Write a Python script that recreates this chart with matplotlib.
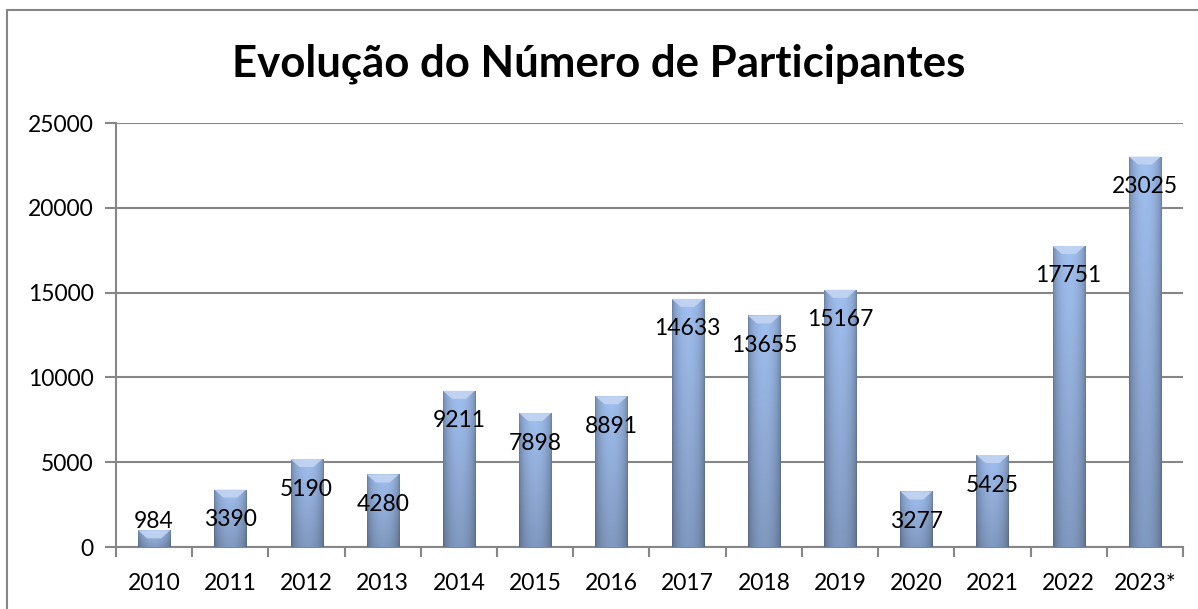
import numpy as np
import matplotlib.pyplot as plt
from matplotlib.patches import Polygon, Rectangle

years = ["2010", "2011", "2012", "2013", "2014", "2015", "2016",
         "2017", "2018", "2019", "2020", "2021", "2022", "2023*"]
participants = [984, 3390, 5190, 4280, 9211, 7898, 8891,
                14633, 13655, 15167, 3277, 5425, 17751, 23025]
yticks = [0, 5000, 10000, 15000, 20000, 25000]
title = "Evolução do Número de Participantes"

GRAY = "#868686"
plt.rcParams["font.family"] = ["Lato", "DejaVu Sans"]

fig = plt.figure(figsize=(11.98, 6.09), dpi=100)
ax = fig.add_axes([0.0968, 0.1018, 0.8907, 0.6962])

x = np.arange(len(years))
bars = ax.bar(x, participants, width=0.42, color="#7f98c6", zorder=3)

# bevel-like shading: darker at the edges, lighter in the middle and near the top
h_prof = 0.66 + 0.34 * np.sin(np.linspace(0, np.pi, 60)) ** 0.5
v_prof = np.linspace(1.0, 0.80, 100)[:, None]
top_col = np.array([0.63, 0.75, 0.94])
shade = top_col[None, None, :] * (h_prof[None, :, None] * v_prof[:, :, None])
shade = np.clip(shade, 0, 1)

px_to_data = 25000 / (0.6962 * 609)
for b in bars:
    x0 = b.get_x()
    w = b.get_width()
    hgt = b.get_height()
    im = ax.imshow(shade, extent=(x0, x0 + w, 0, hgt), aspect="auto",
                   origin="upper", zorder=4, interpolation="bilinear")
    im.set_clip_path(b)
    d = 8 * px_to_data
    ax.add_patch(Polygon([(x0, hgt), (x0 + w, hgt), (x0 + w * 0.72, hgt - d),
                          (x0 + w * 0.28, hgt - d)], closed=True,
                         facecolor="#c4d5f3", edgecolor="none", alpha=0.9, zorder=5))

for xi, v in zip(x, participants):
    ax.text(xi, max(v - 1770, 1530), str(v), ha="center", va="center",
            fontsize=16.5, color="black", zorder=6)

ax.set_xlim(-0.5, len(years) - 0.5)
ax.set_ylim(0, 25000)
ax.set_yticks(yticks)
ax.set_yticklabels([str(t) for t in yticks], fontsize=16.5)
ax.set_xticks(x)
ax.set_xticklabels(years, fontsize=16.5)
ax.tick_params(axis="x", length=0, pad=19)
ax.set_xticks(np.arange(-0.5, len(years)), minor=True)
ax.tick_params(axis="x", which="minor", length=7, color=GRAY, width=1.5)
ax.tick_params(axis="y", length=8, color=GRAY, width=1.5, pad=8)
ax.grid(axis="y", color=GRAY, linewidth=1.5, zorder=0)
for s in ["top", "right"]:
    ax.spines[s].set_visible(False)
for s in ["left", "bottom"]:
    ax.spines[s].set_color(GRAY)
    ax.spines[s].set_linewidth(1.5)

fig.text(0.5, (609 - 76) / 609, title, ha="center", va="baseline", fontsize=31.5,
         fontweight="bold", color="black")

fig.patches.append(Rectangle((7 / 1198, -0.05), 1.2, (609 - 10) / 609 + 0.05,
                             transform=fig.transFigure, fill=False,
                             edgecolor=GRAY, linewidth=1.5))

fig.savefig("out.png", dpi=100)
